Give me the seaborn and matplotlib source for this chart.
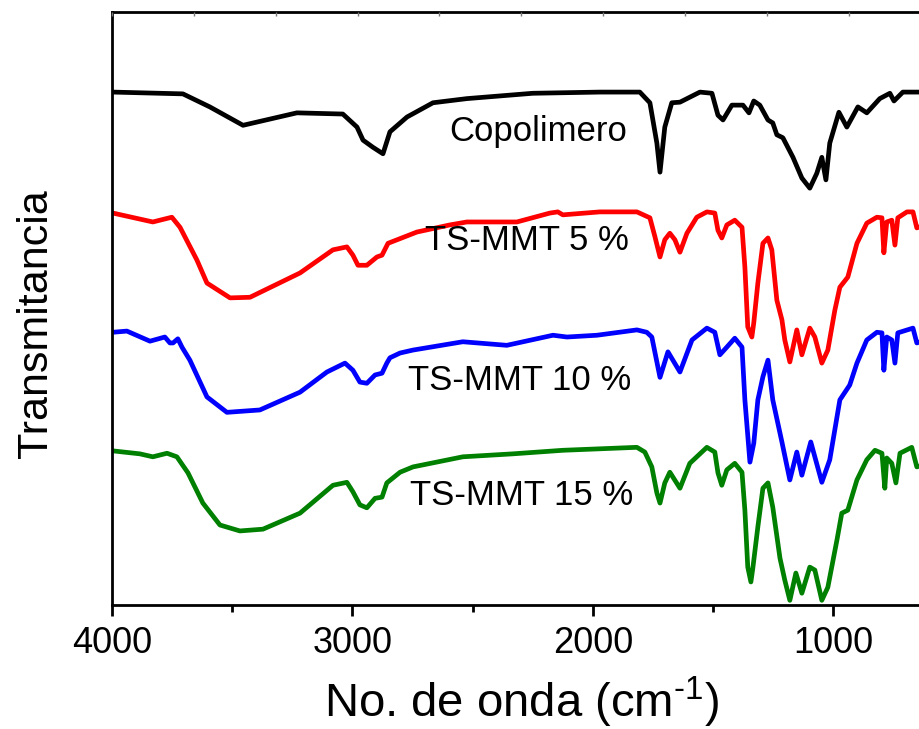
import matplotlib
matplotlib.use("Agg")
import matplotlib.pyplot as plt
from matplotlib.ticker import MultipleLocator
import seaborn as sns
import pandas as pd

# FTIR spectra: wavenumber (cm-1) and stacked transmittance (offset, a.u.)
copolimero_wn = [3996, 3705, 3593, 3455, 3231, 3040, 2981, 2956, 2915, 2873, 2844, 2773,
                 2665, 2524, 2250, 1971, 1805, 1763, 1734, 1721, 1701, 1672, 1638, 1555,
                 1505, 1480, 1459, 1422, 1376, 1351, 1331, 1306, 1272, 1252, 1235, 1210,
                 1168, 1131, 1098, 1069, 1048, 1031, 1015, 977, 944, 898, 861, 807, 765,
                 748, 711, 653, 595]
copolimero_t = [86.5, 86.2, 84.0, 80.9, 83.0, 82.8, 80.6, 78.4, 77.2, 76.1, 79.8, 82.3,
                84.7, 85.4, 86.3, 86.5, 86.5, 84.7, 77.9, 73.0, 80.6, 84.7, 84.8, 86.5,
                86.3, 82.6, 81.8, 84.3, 84.3, 83.0, 85.0, 84.3, 81.8, 81.3, 79.3, 78.8,
                75.5, 72.0, 70.3, 72.8, 75.5, 71.7, 77.9, 83.1, 80.6, 84.0, 83.0, 85.4, 86.3,
                85.0, 86.5, 86.5, 86.5]

mmt5_wn = [3996, 3830, 3751, 3717, 3647, 3605, 3509, 3426, 3218, 3081, 3023, 2998, 2977,
           2940, 2898, 2877, 2852, 2732, 2595, 2524, 2316, 2179, 2146, 2125, 1971, 1817,
           1763, 1742, 1721, 1701, 1680, 1659, 1638, 1609, 1568, 1526, 1493, 1480, 1464,
           1443, 1410, 1380, 1368, 1356, 1339, 1331, 1314, 1293, 1272, 1256, 1235, 1214,
           1202, 1181, 1152, 1131, 1098, 1077, 1048, 1023, 994, 973, 940, 902, 861, 819,
           798, 790, 778, 757, 744, 732, 694, 669, 653, 595]
mmt5_t = [66.1, 64.6, 65.4, 63.7, 58.2, 54.3, 51.8, 51.9, 56.0, 59.9, 60.4, 59.0, 57.3,
          57.3, 58.7, 59.0, 61.0, 62.9, 64.1, 64.6, 64.6, 66.1, 66.3, 65.8, 66.3, 66.3,
          65.3, 62.1, 58.7, 61.6, 62.7, 61.6, 59.5, 62.7, 65.4, 66.3, 66.1, 63.2, 61.9,
          64.1, 64.9, 63.7, 57.0, 46.9, 45.2, 47.6, 54.3, 61.0, 61.9, 59.9, 51.4, 48.1,
          44.7, 41.0, 46.4, 42.2, 46.7, 45.2, 40.8, 43.0, 49.7, 53.6, 55.3, 61.0, 64.4,
          65.4, 65.3, 59.4, 64.6, 64.9, 60.7, 65.3, 66.3, 66.3, 63.6, 64.4]

mmt10_wn = [3996, 3938, 3842, 3780, 3759, 3746, 3726, 3709, 3676, 3605, 3522, 3385, 3218,
            3106, 3031, 2998, 2969, 2940, 2906, 2877, 2857, 2844, 2802, 2748, 2541, 2358,
            2166, 2108, 1983, 1817, 1776, 1755, 1721, 1688, 1638, 1588, 1526, 1493, 1472,
            1443, 1410, 1380, 1368, 1347, 1331, 1314, 1293, 1272, 1252, 1214, 1181, 1152,
            1131, 1094, 1048, 1015, 973, 932, 902, 861, 819, 798, 790, 778, 757, 744, 732,
            669, 653, 595]
mmt10_t = [46.0, 46.2, 44.5, 45.2, 44.2, 44.2, 44.9, 43.5, 41.3, 35.1, 32.5, 32.9, 35.9,
           39.3, 40.8, 39.6, 37.6, 37.4, 38.8, 39.1, 40.8, 41.7, 42.5, 43.0, 44.4, 43.8,
           45.5, 45.2, 45.5, 46.4, 46.0, 45.2, 38.4, 42.7, 39.3, 44.7, 46.7, 46.0, 42.2,
           43.5, 45.0, 43.5, 34.6, 24.1, 27.3, 34.6, 38.5, 41.3, 34.6, 27.5, 21.1, 25.8,
           21.9, 27.5, 20.7, 24.5, 34.6, 37.1, 40.8, 44.7, 46.0, 45.9, 39.6, 45.2, 44.7,
           40.8, 45.9, 46.7, 44.2, 45.0]

mmt15_wn = [3996, 3884, 3830, 3771, 3730, 3684, 3622, 3551, 3468, 3372, 3218, 3081, 3023,
            2998, 2969, 2940, 2906, 2877, 2857, 2802, 2748, 2541, 2333, 2125, 1817, 1784,
            1755, 1734, 1721, 1701, 1680, 1638, 1597, 1526, 1493, 1480, 1464, 1443, 1410,
            1380, 1368, 1356, 1343, 1335, 1314, 1293, 1272, 1252, 1222, 1202, 1181, 1156,
            1131, 1098, 1077, 1048, 1023, 985, 965, 940, 902, 861, 827, 798, 786, 778, 757,
            740, 723, 674, 653, 595]
mmt15_t = [26.0, 25.5, 25.0, 25.6, 25.0, 22.3, 17.2, 13.5, 12.5, 12.8, 15.5, 20.2, 20.7,
           19.1, 16.9, 16.4, 18.0, 18.2, 20.6, 22.4, 23.3, 25.0, 25.5, 26.1, 26.6, 25.8,
           23.3, 18.9, 17.2, 20.6, 22.4, 19.7, 23.9, 26.6, 25.8, 22.3, 20.2, 22.8, 23.9,
           22.4, 16.0, 6.4, 3.9, 6.2, 13.2, 19.7, 20.6, 16.5, 7.9, 4.2, 0.8, 5.4,
           2.0, 6.4, 5.9, 0.8, 3.0, 11.0, 15.5, 16.0, 21.1, 24.5, 26.1, 25.6, 19.7, 24.8,
           23.9, 20.6, 25.6, 26.6, 23.3, 24.0]

series_names = ["Copolimero", "TS-MMT 5 %", "TS-MMT 10 %", "TS-MMT 15 %"]
series_colors = ["black", "#ff0000", "#0000ff", "#008000"]
label_pos = [(2229, 79.9), (2274, 61.4), (2304, 37.8), (2295, 18.4)]

spectra = pd.concat([
    pd.DataFrame({"wn": wn, "t": t, "muestra": name})
    for wn, t, name in zip(
        [copolimero_wn, mmt5_wn, mmt10_wn, mmt15_wn],
        [copolimero_t, mmt5_t, mmt10_t, mmt15_t],
        series_names)
], ignore_index=True)

sns.set_style("ticks")
plt.rcParams["font.family"] = ["Liberation Sans", "DejaVu Sans"]
plt.rcParams["text.color"] = "black"
plt.rcParams["axes.labelcolor"] = "black"
plt.rcParams["xtick.color"] = "black"
plt.rcParams["xtick.labelcolor"] = "black"
plt.rcParams["mathtext.fontset"] = "custom"
plt.rcParams["mathtext.rm"] = "Liberation Sans"
plt.rcParams["mathtext.it"] = "Liberation Sans:italic"

fig = plt.figure(figsize=(9.2, 7.29), dpi=100)
ax = fig.add_axes([0.1217, 0.170, 0.890, 0.8135])

sns.lineplot(data=spectra, x="wn", y="t", hue="muestra", palette=series_colors,
             hue_order=series_names, sort=False, estimator=None, lw=3.4,
             legend=False, ax=ax)
for line in ax.get_lines():
    line.set_solid_joinstyle("round")
    line.set_solid_capstyle("round")

for name, (xp, yp) in zip(series_names, label_pos):
    ax.text(xp, yp, name, fontsize=25, ha="center", va="center", color="black")

ax.set_xlim(4000, 595)
ax.set_ylim(0, 100)
ax.xaxis.set_major_locator(MultipleLocator(1000))
ax.xaxis.set_minor_locator(MultipleLocator(500))
ax.tick_params(axis="x", which="major", direction="out", length=8, width=2,
               labelsize=26, pad=7)
ax.tick_params(axis="x", which="minor", direction="out", length=5, width=2)
ax.set_yticks([])
ax.set_xlabel(r"No. de onda (cm$^{\text{-1}}$)", fontsize=34, labelpad=10)
ax.set_ylabel("Transmitancia", fontsize=31)
ax.yaxis.set_label_coords(-0.068, 0.474)
for side in ["left", "bottom", "top", "right"]:
    ax.spines[side].set_linewidth(2)
    ax.spines[side].set_color("black")

# faint inner ticks along the top edge
top = ax.twiny()
top.set_xlim(0, 10)
top.set_xticks(range(11))
top.tick_params(axis="x", direction="in", length=3, width=1, color="#777777",
                labeltop=False)
for side in ["left", "bottom", "top", "right"]:
    top.spines[side].set_visible(False)

fig.savefig("out.png", dpi=100)
